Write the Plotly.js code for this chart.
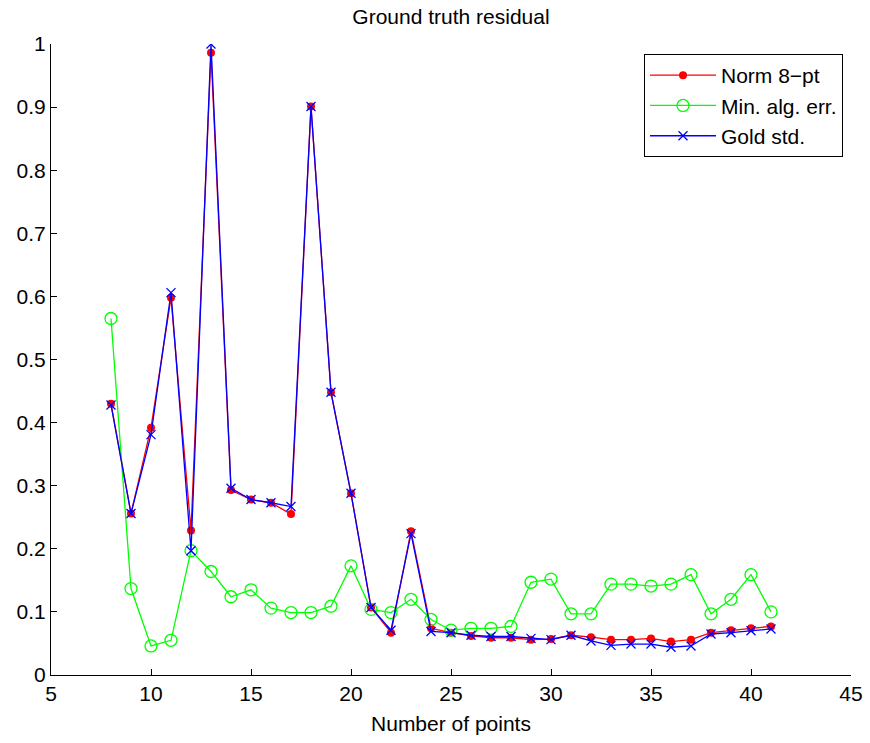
<!DOCTYPE html>
<html>
<head>
<meta charset="utf-8">
<script src="https://cdn.plot.ly/plotly-3.0.1.min.js"></script>
<style>html,body{margin:0;padding:0;background:#fff;}</style>
</head>
<body>
<div id="chart" style="width:870px;height:743px;"></div>
<script>
const numPoints = [8,9,10,11,12,13,14,15,16,17,18,19,20,21,22,23,24,25,26,27,28,29,30,31,32,33,34,35,36,37,38,39,40,41];
const norm8pt = [0.430,0.256,0.392,0.598,0.229,0.986,0.293,0.278,0.273,0.255,0.901,0.448,0.288,0.107,0.067,0.228,0.074,0.067,0.062,0.059,0.059,0.056,0.057,0.063,0.060,0.056,0.056,0.058,0.053,0.056,0.067,0.071,0.074,0.077];
const minAlgErr = [0.565,0.137,0.046,0.055,0.197,0.164,0.124,0.135,0.106,0.099,0.099,0.109,0.173,0.104,0.099,0.120,0.088,0.071,0.074,0.074,0.077,0.147,0.152,0.097,0.097,0.144,0.144,0.141,0.144,0.159,0.097,0.120,0.159,0.100];
const goldStd = [0.428,0.256,0.381,0.606,0.197,1.000,0.296,0.278,0.273,0.267,0.901,0.448,0.288,0.107,0.071,0.224,0.069,0.067,0.063,0.061,0.061,0.058,0.056,0.063,0.054,0.047,0.049,0.049,0.044,0.046,0.065,0.067,0.070,0.073];
const seriesNames = ["Norm 8\u2212pt", "Min. alg. err.", "Gold std."];
const xTicks = [5,10,15,20,25,30,35,40,45];
const yTicks = [0,0.1,0.2,0.3,0.4,0.5,0.6,0.7,0.8,0.9,1];

const FONT = '"Liberation Sans", Arial, Helvetica, sans-serif';

const traces = [
  {x: numPoints, y: norm8pt, name: seriesNames[0], mode: 'lines+markers',
   line: {color: '#ff0000', width: 1.3},
   marker: {symbol: 'circle', size: 8, color: '#ff0000'}},
  {x: numPoints, y: minAlgErr, name: seriesNames[1], mode: 'lines+markers',
   line: {color: '#00ff00', width: 1.3},
   marker: {symbol: 'circle-open', size: 12, color: '#00ff00', line: {width: 1.3, color: '#00ff00'}}},
  {x: numPoints, y: goldStd, name: seriesNames[2], mode: 'lines+markers',
   line: {color: '#0000ff', width: 1.3},
   marker: {symbol: 'x-thin-open', size: 9, color: '#0000ff', line: {width: 1.3, color: '#0000ff'}}}
];

const layout = {
  width: 870, height: 743,
  margin: {l: 51, r: 19, t: 44, b: 68},
  paper_bgcolor: '#fff', plot_bgcolor: '#fff',
  font: {family: FONT, size: 21, color: '#000'},
  title: {text: 'Ground truth residual', x: 0.5, xref: 'paper', y: 1 - 17/743, yref: 'container', yanchor: 'middle',
          font: {family: FONT, size: 21, color: '#000'}},
  xaxis: {range: [5, 45], tickvals: xTicks, ticktext: xTicks.map(String),
          showline: true, linecolor: '#000', linewidth: 1, mirror: false,
          ticks: 'inside', ticklen: 6, tickcolor: '#000', tickwidth: 1,
          showgrid: false, zeroline: false,
          tickfont: {family: FONT, size: 21, color: '#000'},
          title: {text: 'Number of points', standoff: 12, font: {family: FONT, size: 21, color: '#000'}}},
  yaxis: {range: [0, 1], tickvals: yTicks, ticktext: yTicks.map(String),
          showline: true, linecolor: '#000', linewidth: 1, mirror: false,
          ticks: 'inside', ticklen: 6, tickcolor: '#000', tickwidth: 1,
          showgrid: false, zeroline: false,
          tickfont: {family: FONT, size: 21, color: '#000'}},
  showlegend: true,
  legend: {x: (843-51)/800, xanchor: 'right', y: (675-54)/631, yanchor: 'top',
           bordercolor: '#000', borderwidth: 1, bgcolor: '#fff',
           font: {family: FONT, size: 21, color: '#000'},
           itemwidth: 66, tracegroupgap: 0}
};

Plotly.newPlot('chart', traces, layout, {displayModeBar: false, staticPlot: true});
</script>
</body>
</html>
